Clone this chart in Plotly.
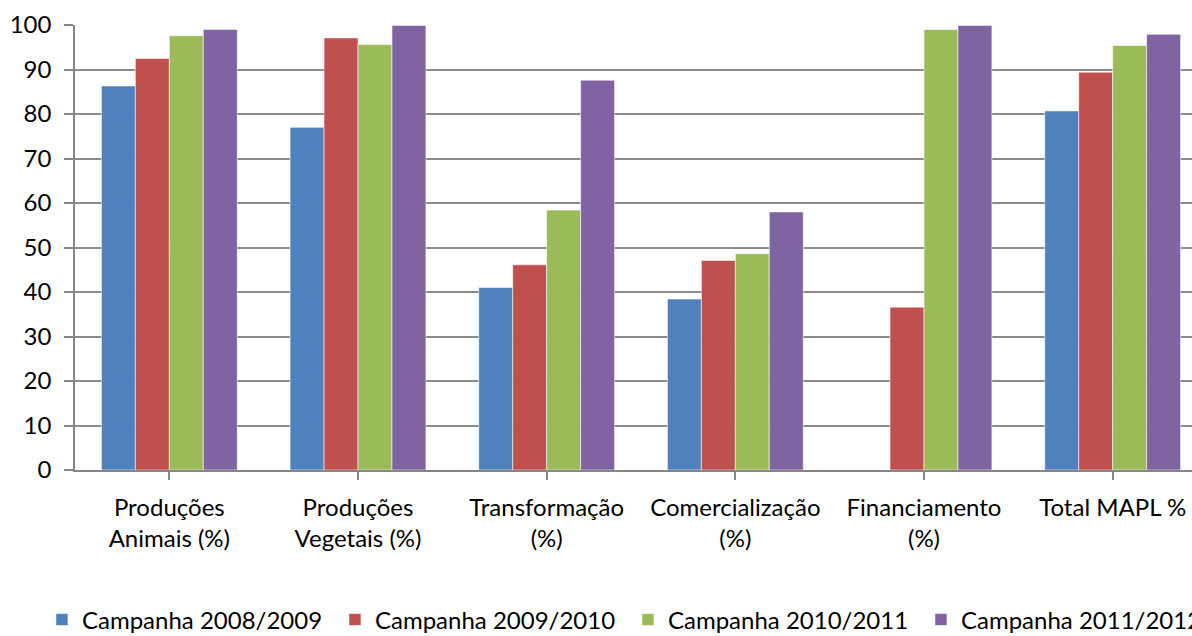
import plotly.graph_objects as go

categories = [
    "Produções<br>Animais (%)",
    "Produções<br>Vegetais (%)",
    "Transformação<br>(%)",
    "Comercialização<br>(%)",
    "Financiamento<br>(%)",
    "Total MAPL %",
]

camp_2008_2009 = [86.3, 77.0, 41.0, 38.4, None, 80.7]
camp_2009_2010 = [92.5, 97.1, 46.1, 47.1, 36.6, 89.4]
camp_2010_2011 = [97.6, 95.6, 58.4, 48.6, 99.0, 95.4]
camp_2011_2012 = [99.0, 99.9, 87.6, 58.0, 99.9, 97.9]

series = [
    ("Campanha 2008/2009", camp_2008_2009, "#4F81BD"),
    ("Campanha 2009/2010", camp_2009_2010, "#C0504D"),
    ("Campanha 2010/2011", camp_2010_2011, "#9BBB59"),
    ("Campanha 2011/2012", camp_2011_2012, "#8064A2"),
]

font_family = "Lato, 'Open Sans', sans-serif"

fig = go.Figure()
for name, vals, color in series:
    fig.add_trace(go.Bar(
        x=list(range(len(categories))),
        y=vals,
        name=name,
        marker=dict(color=color, line=dict(color="rgba(255,255,255,0.7)", width=0.8)),
    ))

# the original chart is bigger than the window: its right edge (and the legend)
# gets cut off, so the figure is made bigger than the page and the overflow hidden
fig.update_layout(
    width=1240,
    height=660,
    barmode="group",
    bargap=0.28,
    bargroupgap=0,
    plot_bgcolor="white",
    paper_bgcolor="white",
    margin=dict(l=75, r=33, t=25, b=190),
    font=dict(family=font_family, size=24, color="black"),
    showlegend=True,
    legend=dict(
        orientation="h",
        x=-0.0292, xanchor="left",
        y=-0.337, yanchor="middle",
        font=dict(size=24),
        entrywidth=248,
        itemwidth=30,
        traceorder="normal",
    ),
    xaxis=dict(
        tickmode="array",
        tickvals=list(range(len(categories))),
        ticktext=categories,
        range=[-0.5, 5.5],
        automargin=False,
        showgrid=False,
        showline=True,
        linecolor="#868686",
        linewidth=1.5,
        ticks="outside",
        tickson="boundaries",
        ticklen=8,
        tickcolor="#868686",
        tickwidth=1.5,
        ticklabelstandoff=7,
        zeroline=False,
    ),
    yaxis=dict(
        range=[0, 100],
        dtick=10,
        automargin=False,
        showgrid=True,
        gridcolor="#8c8c8c",
        gridwidth=1.5,
        showline=True,
        linecolor="#868686",
        linewidth=1.5,
        ticks="outside",
        ticklen=9,
        tickcolor="#868686",
        tickwidth=1.5,
        ticklabelstandoff=8,
        zeroline=False,
    ),
)

fig.write_html(
    "out.html",
    config={"displayModeBar": False},
    post_script="document.body.style.margin='0';document.body.style.overflow='hidden';",
)
